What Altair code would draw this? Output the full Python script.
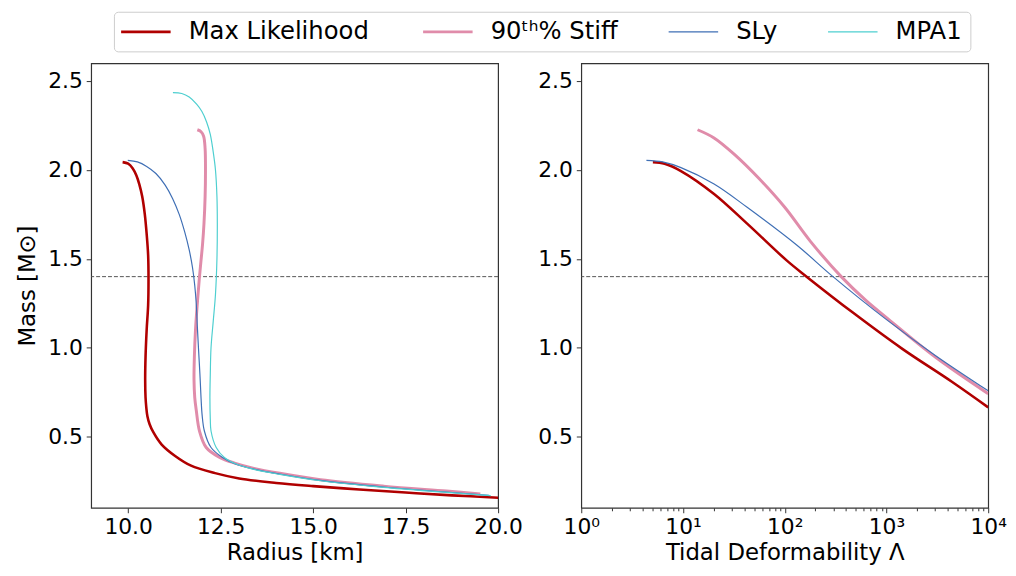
import altair as alt
import pandas as pd

FONT = "DejaVu Sans"

series_names = ["Max Likelihood", "90ᵗʰ% Stiff", "SLy", "MPA1"]
series_colors = ["#b00000", "#e08caa", "#3f6fb5", "#4ecfd0"]
series_widths = [2.6, 3.0, 1.2, 1.2]

# ---- Left panel: Mass vs Radius ----
R_ml = [9.85, 10.0, 10.12, 10.22, 10.3, 10.38, 10.45, 10.5, 10.54, 10.55, 10.54, 10.5, 10.47, 10.46,
        10.47, 10.49, 10.52, 10.58, 10.68, 10.9, 11.26, 11.7, 12.35, 13.0, 14.0, 15.0, 16.25, 17.5, 18.75, 20.0]
M_ml = [2.044, 2.035, 2.01, 1.97, 1.92, 1.85, 1.75, 1.64, 1.52, 1.38, 1.24, 1.1, 0.95, 0.82,
        0.72, 0.665, 0.615, 0.57, 0.525, 0.457, 0.393, 0.337, 0.295, 0.265, 0.24, 0.222, 0.203, 0.186, 0.17, 0.157]

R_st = [11.87, 11.97, 12.04, 12.08, 12.09, 12.08, 12.05, 12.01, 11.96, 11.92, 11.87, 11.82, 11.79,
        11.78, 11.8, 11.84, 11.93, 12.11, 12.46, 12.9, 13.4, 14.1, 15.2, 16.9, 18.6, 19.52]
M_st = [2.226, 2.215, 2.19, 2.12, 2.0, 1.85, 1.7, 1.58, 1.47, 1.38, 1.25, 1.1, 0.95,
        0.82, 0.72, 0.65, 0.53, 0.439, 0.385, 0.35, 0.322, 0.294, 0.258, 0.222, 0.194, 0.178]

R_sly = [9.99, 10.25, 10.5, 10.75, 11.0, 11.2, 11.38, 11.53, 11.65, 11.74, 11.8, 11.84, 11.87, 11.9,
         11.94, 11.97, 12.0, 12.06, 12.24, 12.55, 12.9, 13.4, 14.1, 15.2, 16.9, 18.6, 19.75]
M_sly = [2.054, 2.045, 2.02, 1.98, 1.915, 1.84, 1.75, 1.65, 1.55, 1.45, 1.35, 1.25, 1.12, 1.0,
         0.85, 0.717, 0.62, 0.532, 0.439, 0.383, 0.346, 0.318, 0.29, 0.254, 0.217, 0.189, 0.17]

R_mpa = [11.21, 11.45, 11.65, 11.85, 11.99, 12.12, 12.22, 12.3, 12.36, 12.4, 12.41, 12.4, 12.36,
         12.3, 12.24, 12.22, 12.21, 12.22, 12.24, 12.38, 12.6, 12.92, 13.4, 14.1, 15.2, 16.9, 18.6, 19.8]
M_mpa = [2.435, 2.43, 2.41, 2.37, 2.33, 2.27, 2.2, 2.1, 2.0, 1.85, 1.7, 1.5, 1.3,
         1.15, 1.0, 0.85, 0.717, 0.6, 0.532, 0.439, 0.383, 0.346, 0.316, 0.288, 0.252, 0.215, 0.187, 0.168]

# ---- Right panel: Mass vs Tidal deformability ----
L_ml = [5.06, 6.6, 9.55, 20.2, 42.7, 105, 164, 467, 1432, 4395, 10000]
ML_ml = [2.044, 2.035, 1.994, 1.865, 1.698, 1.49, 1.40, 1.198, 0.994, 0.809, 0.665]

L_st = [13.9, 20.2, 31.6, 56.2, 100, 178, 359, 631, 1000, 3020, 10000]
ML_st = [2.226, 2.18, 2.09, 1.95, 1.79, 1.60, 1.40, 1.265, 1.17, 0.948, 0.742]

L_sly = [4.37, 6.3, 9.55, 20.2, 42.7, 131, 298, 986, 3020, 10000]
ML_sly = [2.054, 2.045, 2.013, 1.921, 1.79, 1.578, 1.40, 1.161, 0.957, 0.758]

ref_mass = [1.4]
y_ticks = [0.5, 1.0, 1.5, 2.0, 2.5]
r_ticks = [10.0, 12.5, 15.0, 17.5, 20.0]
lam_ticks = [m * d for d in [1, 10, 100, 1000] for m in range(1, 10)] + [10000]


def build(pairs, xname):
    rows = []
    for name, xs, ys in pairs:
        for i, (xv, yv) in enumerate(zip(xs, ys)):
            rows.append({"series": name, "idx": i, xname: xv, "M": yv})
    return pd.DataFrame(rows)


df_left = build([(series_names[0], R_ml, M_ml), (series_names[1], R_st, M_st),
                 (series_names[2], R_sly, M_sly), (series_names[3], R_mpa, M_mpa)], "R")
df_right = build([(series_names[0], L_ml, ML_ml), (series_names[1], L_st, ML_st),
                  (series_names[2], L_sly, ML_sly)], "L")
df_ref = pd.DataFrame({"m": ref_mass})

color_scale = alt.Scale(domain=series_names, range=series_colors)
legend = alt.Legend(
    orient="none", legendX=23, legendY=-52, direction="horizontal", columns=4,
    title=None, symbolType="stroke", symbolSize=2500, symbolOffset=12,
    symbolStrokeWidth=alt.ExprRef("indexof(['SLy','MPA1'], datum.value) >= 0 ? 1.3 : 2.8"),
    labelFontSize=24.5, labelFont=FONT, labelColor="black", columnPadding=48, labelOffset=31,
    strokeColor="#cccccc", fillColor="white", cornerRadius=4, padding=8, labelLimit=400,
)

y_enc = alt.Y("M:Q", scale=alt.Scale(domain=[0.1, 2.6], nice=False, zero=False),
              axis=alt.Axis(values=y_ticks, format=".1f", title="Mass [M⊙]", titlePadding=8))
y_enc_r = alt.Y("M:Q", scale=alt.Scale(domain=[0.1, 2.6], nice=False, zero=False),
                axis=alt.Axis(values=y_ticks, format=".1f", title=None))

rule = alt.Chart(df_ref).mark_rule(color="#555555", strokeDash=[4, 2], strokeWidth=1).encode(y="m:Q")


def panel(df, xenc, yenc, names):
    layers = [rule]
    for name, w in zip(series_names, series_widths):
        if name not in names:
            continue
        layers.append(
            alt.Chart(df).transform_filter(alt.datum.series == name)
            .mark_line(interpolate="catmull-rom", strokeWidth=w, clip=True)
            .encode(x=xenc, y=yenc, order=alt.Order("idx:Q"),
                    color=alt.Color("series:N", scale=color_scale, legend=legend))
        )
    return alt.layer(*layers).properties(width=411, height=449)


x_left = alt.X("R:Q", scale=alt.Scale(domain=[9, 20], nice=False, zero=False),
               axis=alt.Axis(values=r_ticks, format=".1f", title="Radius [km]"))
label_expr = ("datum.value == 1 ? '10⁰' : datum.value == 10 ? '10¹' : datum.value == 100 ? '10²' : "
              "datum.value == 1000 ? '10³' : datum.value == 10000 ? '10⁴' : ''")
x_right = alt.X("L:Q", scale=alt.Scale(type="log", domain=[1, 10000], nice=False),
                axis=alt.Axis(values=lam_ticks, labelExpr=label_expr, labelOverlap=False,
                              title="Tidal Deformability Λ",
                              tickSize={"condition": {"test": "indexof([1,10,100,1000,10000], datum.value) >= 0",
                                                      "value": 5}, "value": 3}))

left = panel(df_left, x_left, y_enc, series_names)
right = panel(df_right, x_right, y_enc_r, series_names[:3])

chart = alt.hconcat(left, right, spacing=84, bounds="flush").resolve_scale(color="shared").properties(
    padding={"left": 8, "top": 0, "right": 0, "bottom": 0}
).configure_view(stroke="#333333", strokeWidth=1.2).configure_axis(
    grid=False, domain=False, labelFont=FONT, labelFontSize=22, labelColor="black",
    titleFont=FONT, titleFontSize=23, titleFontWeight="normal", titleColor="black",
    tickColor="#333333", tickSize=5, labelPadding=4, titlePadding=4, labelFlush=False,
)

chart.save("out.html", embed_options={"renderer": "svg", "actions": False})
